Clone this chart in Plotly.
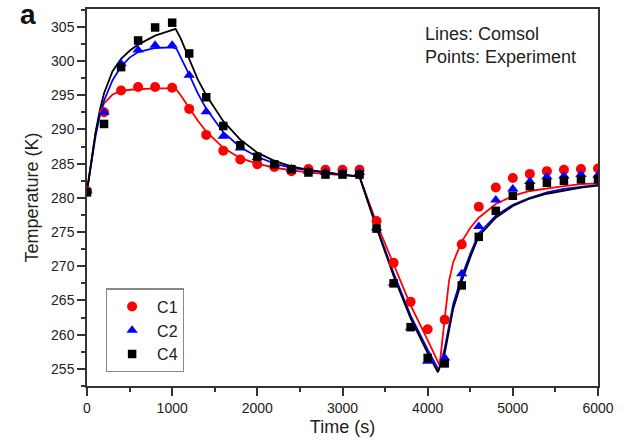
import plotly.graph_objects as go

# ---- Experimental points (every 200 s) ----
t_pts = [0, 200, 400, 600, 800, 1000, 1200, 1400, 1600, 1800, 2000, 2200, 2400, 2600, 2800, 3000, 3200,
         3400, 3600, 3800, 4000, 4200, 4400, 4600, 4800, 5000, 5200, 5400, 5600, 5800, 6000]
c1_pts = [281.0, 292.5, 295.7, 296.2, 296.2, 296.1, 293.0, 289.2, 286.9, 285.6, 284.9, 284.5, 283.9, 284.2, 284.1, 284.1, 284.1,
          276.6, 270.5, 264.8, 260.8, 262.2, 273.2, 278.7, 281.5, 282.9, 283.5, 283.9, 284.1, 284.2, 284.3]
c2_pts = [281.0, 292.5, 299.6, 301.6, 302.3, 302.3, 297.9, 292.6, 289.0, 287.3, 285.9, 284.9, 284.2, 283.9, 283.7, 283.7, 283.7,
          275.6, 267.5, 261.0, 256.1, 256.6, 268.9, 275.8, 279.7, 281.3, 282.4, 283.1, 283.2, 283.4, 283.3]
c4_pts = [280.8, 290.8, 299.1, 303.0, 304.9, 305.6, 301.1, 294.7, 290.5, 287.7, 286.0, 284.9, 284.2, 283.7, 283.4, 283.4, 283.4,
          275.5, 267.5, 261.1, 256.6, 255.8, 267.2, 274.3, 278.1, 280.3, 281.7, 282.2, 282.5, 282.7, 282.7]

# ---- Comsol simulation lines ----
t_c1 = [0, 50, 100, 150, 200, 300, 400, 500, 600, 800, 1000, 1050, 1100, 1200, 1300, 1400, 1600, 1800, 2000, 2200, 2400,
        2600, 2800, 3000, 3200, 3400, 3600, 3800, 4000, 4140, 4200, 4250, 4300, 4400, 4500, 4600, 4800, 5000, 5200,
        5400, 5600, 5800, 6000]
c1_line = [281.0, 285.5, 289.5, 292.3, 293.8, 295.1, 295.6, 295.8, 295.9, 296.0, 296.0, 295.8, 295.0, 293.2, 291.3, 289.7,
           287.3, 285.8, 285.0, 284.4, 284.0, 283.7, 283.5, 283.3, 283.1, 276.3, 270.3, 264.3, 259.2, 255.5, 262.3, 267.8,
           270.6, 273.6, 275.6, 277.1, 279.1, 280.3, 281.0, 281.4, 281.7, 282.0, 282.1]

t_c2 = [0, 50, 100, 150, 200, 300, 400, 500, 600, 800, 1000, 1050, 1100, 1200, 1300, 1400, 1600, 1800, 2000, 2200, 2400,
        2600, 2800, 3000, 3200, 3400, 3600, 3800, 4000, 4130, 4200, 4300, 4400, 4500, 4600, 4800, 5000, 5200, 5400,
        5600, 5800, 6000]
c2_line = [281.0, 285.3, 289.0, 292.0, 294.2, 297.2, 299.2, 300.5, 301.3, 301.9, 302.0, 301.8, 300.6, 298.0, 295.3, 293.0,
           289.6, 287.4, 286.0, 285.0, 284.4, 284.0, 283.7, 283.4, 283.1, 275.8, 269.0, 262.8, 257.8, 254.8, 258.0, 264.5,
           268.5, 271.8, 274.8, 277.4, 279.0, 280.0, 280.8, 281.3, 281.6, 281.9]

t_c4 = [0, 50, 100, 150, 200, 300, 400, 500, 600, 800, 1000, 1040, 1100, 1200, 1300, 1400, 1600, 1800, 2000, 2200, 2400,
        2600, 2800, 3000, 3200, 3400, 3600, 3800, 4000, 4120, 4200, 4300, 4400, 4500, 4600, 4800, 5000, 5200, 5400,
        5600, 5800, 6000]
c4_line = [281.0, 285.5, 289.5, 292.8, 295.3, 298.5, 300.3, 301.5, 302.4, 303.7, 304.5, 304.7, 303.3, 300.2, 297.3, 295.0,
           291.2, 288.5, 286.6, 285.4, 284.6, 284.1, 283.7, 283.4, 283.1, 275.6, 268.6, 262.4, 257.3, 254.5, 257.3, 263.8,
           267.8, 271.3, 274.4, 277.1, 278.8, 279.9, 280.6, 281.1, 281.5, 281.8]

RED = "#ff0000"
BLUE = "#0000ff"
BLACK = "#000000"

fig = go.Figure()

for t, y, col in [(t_c1, c1_line, RED), (t_c2, c2_line, BLUE), (t_c4, c4_line, BLACK)]:
    fig.add_trace(go.Scatter(x=t, y=y, mode="lines", line=dict(color=col, width=1.8),
                             showlegend=False, hoverinfo="skip"))

fig.add_trace(go.Scatter(x=t_pts, y=c1_pts, mode="markers", name="C1",
                         marker=dict(symbol="circle", size=10, color=RED)))
fig.add_trace(go.Scatter(x=t_pts, y=c2_pts, mode="markers", name="C2",
                         marker=dict(symbol="triangle-up", size=10, color=BLUE)))
fig.add_trace(go.Scatter(x=t_pts, y=c4_pts, mode="markers", name="C4",
                         marker=dict(symbol="square", size=8.5, color=BLACK)))

axis_common = dict(
    showline=True, linecolor="#333333", linewidth=1.5, mirror=True,
    showgrid=False, zeroline=False,
    ticks="outside", ticklen=8, tickwidth=1.5, tickcolor="#333333",
    tickfont=dict(family="Liberation Sans, Arial, sans-serif", size=14, color="#222222"),
)

fig.update_xaxes(range=[0, 6000], dtick=1000, tick0=0,
                 minor=dict(dtick=500, ticks="outside", ticklen=4, tickwidth=1.5, tickcolor="#333333"),
                 title=dict(text="Time (s)", font=dict(family="Liberation Sans, Arial, sans-serif", size=18, color="#222222"),
                            standoff=6),
                 **axis_common)
fig.update_yaxes(range=[252.5, 307.6], dtick=5, tick0=255,
                 minor=dict(dtick=2.5, ticks="outside", ticklen=4, tickwidth=1.5, tickcolor="#333333"),
                 title=dict(text="Temperature (K)", font=dict(family="Liberation Sans, Arial, sans-serif", size=18, color="#222222"),
                            standoff=8),
                 **axis_common)

fig.update_layout(
    width=629, height=448,
    margin=dict(l=87, r=31, t=7, b=62),
    paper_bgcolor="white", plot_bgcolor="white",
    font=dict(family="Liberation Sans, Arial, sans-serif", color="#222222"),
    legend=dict(x=0.037, y=0.259, xanchor="left", yanchor="top",
                bgcolor="white", bordercolor="#888888", borderwidth=1.2,
                font=dict(size=16, color="#222222"), tracegroupgap=0, itemwidth=40),
    annotations=[
        dict(text="Lines: Comsol<br>Points: Experiment", xref="paper", yref="paper",
             x=0.6575, y=0.965, xanchor="left", yanchor="top", align="left", showarrow=False,
             font=dict(size=18, color="#222222")),
        dict(text="<b>a</b>", xref="paper", yref="paper", x=-0.135, y=0.985,
             xanchor="left", yanchor="middle", showarrow=False,
             font=dict(size=28, color="#111111")),
    ],
)

fig.write_html("out.html")
